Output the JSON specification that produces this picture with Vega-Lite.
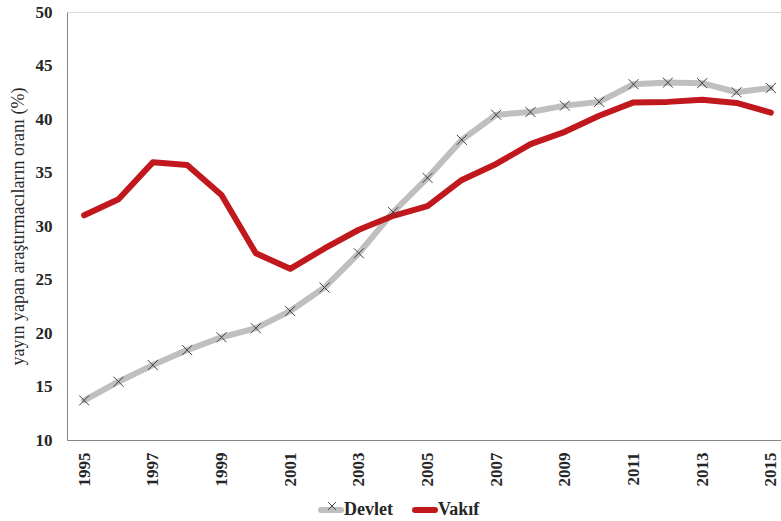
{
  "$schema": "https://vega.github.io/schema/vega-lite/v6.json",
  "width": 721,
  "height": 428,
  "autosize": {"type": "none"},
  "padding": {"left": 67, "top": 12, "right": 0, "bottom": 81},
  "background": "white",
  "config": {
    "view": {"stroke": "#d9d9d9", "strokeWidth": 1},
    "font": "Liberation Serif"
  },
  "data": {
    "values": [
      {"year": 1995, "series": "Devlet", "value": 13.7},
      {"year": 1996, "series": "Devlet", "value": 15.45},
      {"year": 1997, "series": "Devlet", "value": 17.0},
      {"year": 1998, "series": "Devlet", "value": 18.4},
      {"year": 1999, "series": "Devlet", "value": 19.6},
      {"year": 2000, "series": "Devlet", "value": 20.45},
      {"year": 2001, "series": "Devlet", "value": 22.05},
      {"year": 2002, "series": "Devlet", "value": 24.25},
      {"year": 2003, "series": "Devlet", "value": 27.45},
      {"year": 2004, "series": "Devlet", "value": 31.3},
      {"year": 2005, "series": "Devlet", "value": 34.5},
      {"year": 2006, "series": "Devlet", "value": 38.05},
      {"year": 2007, "series": "Devlet", "value": 40.4},
      {"year": 2008, "series": "Devlet", "value": 40.65},
      {"year": 2009, "series": "Devlet", "value": 41.25},
      {"year": 2010, "series": "Devlet", "value": 41.6},
      {"year": 2011, "series": "Devlet", "value": 43.25},
      {"year": 2012, "series": "Devlet", "value": 43.4},
      {"year": 2013, "series": "Devlet", "value": 43.35},
      {"year": 2014, "series": "Devlet", "value": 42.5},
      {"year": 2015, "series": "Devlet", "value": 42.9},
      {"year": 1995, "series": "Vakıf", "value": 31.0},
      {"year": 1996, "series": "Vakıf", "value": 32.5},
      {"year": 1997, "series": "Vakıf", "value": 35.95},
      {"year": 1998, "series": "Vakıf", "value": 35.7},
      {"year": 1999, "series": "Vakıf", "value": 32.9},
      {"year": 2000, "series": "Vakıf", "value": 27.45},
      {"year": 2001, "series": "Vakıf", "value": 26.0},
      {"year": 2002, "series": "Vakıf", "value": 27.9},
      {"year": 2003, "series": "Vakıf", "value": 29.65},
      {"year": 2004, "series": "Vakıf", "value": 30.95},
      {"year": 2005, "series": "Vakıf", "value": 31.85},
      {"year": 2006, "series": "Vakıf", "value": 34.3},
      {"year": 2007, "series": "Vakıf", "value": 35.8},
      {"year": 2008, "series": "Vakıf", "value": 37.65},
      {"year": 2009, "series": "Vakıf", "value": 38.8},
      {"year": 2010, "series": "Vakıf", "value": 40.3},
      {"year": 2011, "series": "Vakıf", "value": 41.55},
      {"year": 2012, "series": "Vakıf", "value": 41.6},
      {"year": 2013, "series": "Vakıf", "value": 41.8},
      {"year": 2014, "series": "Vakıf", "value": 41.5},
      {"year": 2015, "series": "Vakıf", "value": 40.6}
    ]
  },
  "encoding": {
    "x": {
      "field": "year",
      "type": "quantitative",
      "scale": {"domain": [1994.5, 2015.5], "nice": false, "zero": false},
      "axis": {
        "values": [1995, 1997, 1999, 2001, 2003, 2005, 2007, 2009, 2011, 2013, 2015],
        "format": "d",
        "labelAngle": -90,
        "labelAlign": "right",
        "labelBaseline": "middle",
        "labelFont": "Liberation Serif",
        "labelFontWeight": "bold",
        "labelFontSize": 17,
        "labelColor": "#262626",
        "labelPadding": 12,
        "ticks": false,
        "grid": false,
        "domainColor": "#868686",
        "title": null
      }
    },
    "y": {
      "field": "value",
      "type": "quantitative",
      "scale": {"domain": [10, 50], "nice": false, "zero": false},
      "axis": {
        "values": [10, 15, 20, 25, 30, 35, 40, 45, 50],
        "labelFont": "Liberation Serif",
        "labelFontWeight": "bold",
        "labelFontSize": 17,
        "labelColor": "#262626",
        "labelPadding": 15,
        "ticks": false,
        "grid": false,
        "domainColor": "#868686",
        "title": "yayın yapan araştırmacıların oranı (%)",
        "titleFont": "Liberation Serif",
        "titleFontWeight": "normal",
        "titleFontSize": 18,
        "titleColor": "#262626",
        "titlePadding": 8
      }
    }
  },
  "layer": [
    {
      "mark": {"type": "line", "strokeWidth": 6, "strokeCap": "round", "strokeJoin": "round"},
      "encoding": {
        "color": {
          "field": "series",
          "type": "nominal",
          "scale": {"domain": ["Devlet", "Vakıf"], "range": ["#bfbfbf", "#c0181d"]},
          "legend": {
            "orient": "none",
            "legendX": 251,
            "legendY": 485,
            "direction": "horizontal",
            "title": null,
            "symbolType": "stroke",
            "symbolStrokeWidth": 6,
            "symbolSize": 400,
            "labelFont": "Liberation Serif",
            "labelFontWeight": "bold",
            "labelFontSize": 18,
            "labelColor": "#262626",
            "labelOffset": 0,
            "columnPadding": 10,
            "encode": {"symbols": {"update": {"strokeCap": {"value": "round"}}}}
          }
        }
      }
    },
    {
      "transform": [{"filter": "datum.series === 'Devlet'"}],
      "mark": {
        "type": "point",
        "filled": false,
        "stroke": "#404040",
        "strokeWidth": 1,
        "size": 100,
        "opacity": 1
      },
      "encoding": {
        "shape": {
          "field": "series",
          "type": "nominal",
          "scale": {"domain": ["Devlet"], "range": ["M-1,-1L1,1M-1,1L1,-1"]},
          "legend": {
            "orient": "none",
            "legendX": 256,
            "legendY": 485,
            "direction": "horizontal",
            "title": null,
            "symbolSize": 60,
            "symbolStrokeColor": "#404040",
            "symbolStrokeWidth": 1,
            "symbolFillColor": "transparent",
            "labelFontSize": 18,
            "labelFont": "Liberation Serif",
            "labelFontWeight": "bold",
            "labelExpr": "''"
          }
        }
      }
    }
  ]
}
